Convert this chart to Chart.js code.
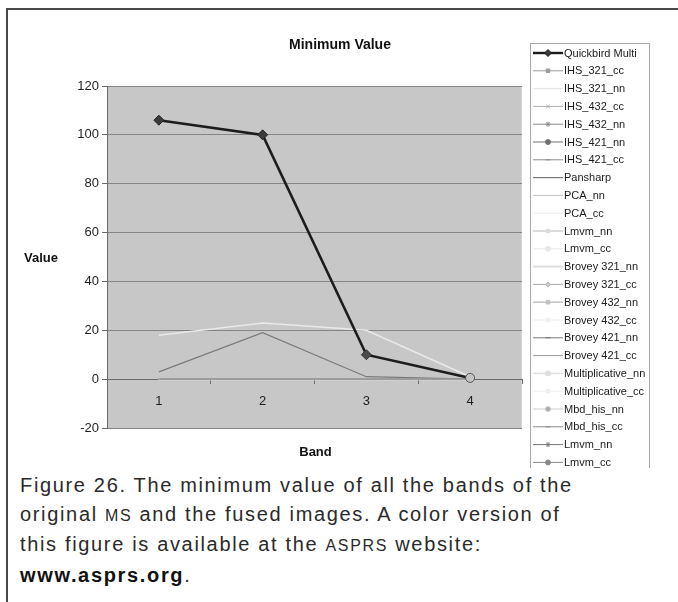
<!DOCTYPE html>
<html>
<head>
<meta charset="utf-8">
<script src="https://cdn.jsdelivr.net/npm/chart.js@4"></script>
<style>
  html, body { margin: 0; padding: 0; background: #fff; }
  body { width: 678px; height: 602px; position: relative; overflow: hidden; }
  #frame { position: absolute; left: 6px; top: 8px; width: 700px; height: 620px;
           border-left: 2px solid #4a4a4a; border-top: 2px solid #4a4a4a; }
  #wrap { position: absolute; left: 0; top: 0; width: 678px; height: 470px; }
  #caption { position: absolute; left: 20px; top: 471px; font-family: "Liberation Sans", Arial, sans-serif;
             font-size: 20px; line-height: 28.5px; color: #2a2a2a; white-space: nowrap; }
  .sc { font-size: 16px; }
  b { color: #111; }
</style>
</head>
<body>
<div id="frame"></div>
<div id="wrap"><canvas id="c" width="678" height="470"></canvas></div>
<div id="caption">
  <div class="ln">Figure 26. The minimum value of all the bands of the</div>
  <div class="ln">original <span class="sc">MS</span> and the fused images. A color version of</div>
  <div class="ln">this figure is available at the <span class="sc">ASPRS</span> website:</div>
  <div class="ln"><b>www.asprs.org</b>.</div>
</div>
<script>
// Band numbers on the category axis
const bands = ['1', '2', '3', '4'];

// Value axis ticks
const valueTicks = [-20, 0, 20, 40, 60, 80, 100, 120];

// Minimum value per band for the original image and each fused product
const quickbirdMulti   = [106, 100, 10, 0.5];
const ihs321cc         = [0, 0, 0, 0];
const ihs321nn         = [18, 23, 20, 1];
const ihs432cc         = [0, 0, 0, 0];
const ihs432nn         = [0, 0, 0, 0];
const ihs421nn         = [0, 0, 0, 0];
const ihs421cc         = [0, 0, 0, 0];
const pansharp         = [3, 19, 1, 0];
const pcaNn            = [0, 0, 0, 0];
const pcaCc            = [0, 0, 0, 0];
const lmvmNn           = [0, 0, 0, 0];
const lmvmCc           = [0, 0, 0, 0];
const brovey321nn      = [0, 0, 0, 0];
const brovey321cc      = [0, 0, 0, 0];
const brovey432nn      = [0, 0, 0, 0];
const brovey432cc      = [0, 0, 0, 0];
const brovey421nn      = [0, 0, 0, 0];
const brovey421cc      = [0, 0, 0, 0];
const multiplicativeNn = [0, 0, 0, 0];
const multiplicativeCc = [0, 0, 0, 0];
const mbdHisNn         = [0, 0, 0, 0];
const mbdHisCc         = [0, 0, 0, 0];
const lmvmNn2          = [0, 0, 0, 0];
const lmvmCc2          = [0, 0, 0, 0];

const FONT = '"Liberation Sans", Arial, sans-serif';

// one series; the marker is shown in the legend key, the plotted points stay plain
function ds(label, data, color, width, marker, fill) {
  return {
    label, data,
    borderColor: color, backgroundColor: fill || color,
    borderWidth: width, pointRadius: 0,
    legendMarker: marker || null, legendFill: fill || color,
    tension: 0, fill: false
  };
}

const datasets = [
  Object.assign(ds('Quickbird Multi', quickbirdMulti, '#1c1c1c', 2.6, 'rectRot', '#3a3a3a'), {
    pointStyle: ['rectRot', 'rectRot', 'rectRot', 'circle'],
    pointBackgroundColor: ['#3a3a3a', '#3a3a3a', '#4a4a4a', '#c4c4c4'],
    pointBorderColor: ['#222', '#222', '#333', '#555'],
    pointBorderWidth: 1,
    pointRadius: [5, 5, 5, 4.5]
  }),
  ds('IHS_321_cc', ihs321cc, '#9a9a9a', 1, 'rect'),
  ds('IHS_321_nn', ihs321nn, '#e9e9e9', 1.5, null),
  ds('IHS_432_cc', ihs432cc, '#b0b0b0', 1, 'crossRot'),
  ds('IHS_432_nn', ihs432nn, '#8a8a8a', 1, 'star'),
  ds('IHS_421_nn', ihs421nn, '#707070', 1, 'circle'),
  ds('IHS_421_cc', ihs421cc, '#8c8c8c', 1, 'line'),
  ds('Pansharp', pansharp, '#7a7a7a', 1.2, null),
  ds('PCA_nn', pcaNn, '#bdbdbd', 1, null),
  ds('PCA_cc', pcaCc, '#ececec', 1, null),
  ds('Lmvm_nn', lmvmNn, '#dcdcdc', 2, 'rect'),
  ds('Lmvm_cc', lmvmCc, '#e8e8e8', 1, 'circle'),
  ds('Brovey 321_nn', brovey321nn, '#dddddd', 2, null),
  ds('Brovey 321_cc', brovey321cc, '#ababab', 1, 'rectRot', '#d0d0d0'),
  ds('Brovey 432_nn', brovey432nn, '#c2c2c2', 1.5, 'rect'),
  ds('Brovey 432_cc', brovey432cc, '#eeeeee', 1, 'rect'),
  ds('Brovey 421_nn', brovey421nn, '#7a7a7a', 1, 'line'),
  ds('Brovey 421_cc', brovey421cc, '#9a9a9a', 1, null),
  ds('Multiplicative_nn', multiplicativeNn, '#dedede', 1.5, 'circle'),
  ds('Multiplicative_cc', multiplicativeCc, '#efefef', 1, 'rect'),
  ds('Mbd_his_nn', mbdHisNn, '#cbcbcb', 1, 'circle', '#aaaaaa'),
  ds('Mbd_his_cc', mbdHisCc, '#8c8c8c', 1, 'line'),
  ds('Lmvm_nn', lmvmNn2, '#777777', 1, 'star'),
  ds('Lmvm_cc', lmvmCc2, '#888888', 1, 'circle')
];

// Gray plot area behind the series
const plotBackground = {
  id: 'plotBackground',
  beforeDraw(chart) {
    const { ctx, chartArea: a } = chart;
    ctx.save();
    ctx.fillStyle = '#c7c7c7';
    ctx.fillRect(a.left, a.top, a.right - a.left, a.bottom - a.top);
    ctx.strokeStyle = '#d8d8d8';
    ctx.lineWidth = 1;
    ctx.beginPath();
    ctx.moveTo(Math.round(a.right) - 0.5, a.top);
    ctx.lineTo(Math.round(a.right) - 0.5, a.bottom);
    ctx.stroke();
    ctx.restore();
  }
};

// Chart title, horizontal axis titles and the boxed legend on the right
const annotations = {
  id: 'annotations',
  afterDraw(chart) {
    const { ctx, chartArea: a } = chart;
    ctx.save();
    ctx.fillStyle = '#111';
    ctx.textAlign = 'center';
    ctx.textBaseline = 'middle';
    ctx.font = 'bold 14px ' + FONT;
    ctx.fillText('Minimum Value', 340, 45);
    ctx.font = 'bold 13px ' + FONT;
    ctx.fillText('Value', 41, (a.top + a.bottom) / 2 + 1);
    ctx.fillText('Band', (a.left + a.right) / 2 + 1, 452);

    // legend
    ctx.beginPath();
    ctx.rect(0, 0, 678, 468);
    ctx.clip();
    ctx.strokeStyle = '#a9a9a9';
    ctx.lineWidth = 1;
    ctx.strokeRect(530.5, 43.5, 119, 440);
    ctx.font = '11px ' + FONT;
    ctx.textAlign = 'left';
    chart.data.datasets.forEach((d, i) => {
      const y = 53 + i * 17.8;
      ctx.strokeStyle = d.borderColor;
      ctx.lineWidth = Math.min(d.borderWidth, 2.4);
      ctx.beginPath();
      ctx.moveTo(533, y);
      ctx.lineTo(563, y);
      ctx.stroke();
      if (d.legendMarker) {
        ctx.fillStyle = d.legendFill;
        ctx.strokeStyle = d.borderColor;
        ctx.lineWidth = 1;
        Chart.helpers.drawPoint(ctx, { pointStyle: d.legendMarker, radius: i === 0 ? 3.5 : 2.5, rotation: 0, borderWidth: 1 }, 548, y);
      }
      ctx.fillStyle = '#1a1a1a';
      ctx.fillText(d.label, 564, y + 0.5);
    });
    ctx.restore();
  }
};

new Chart(document.getElementById('c'), {
  type: 'line',
  data: { labels: bands, datasets },
  plugins: [plotBackground, annotations],
  options: {
    responsive: false,
    animation: false,
    events: [],
    layout: { padding: { left: 0, right: 156, top: 86, bottom: 42 } },
    plugins: {
      legend: { display: false },
      tooltip: { enabled: false },
      title: { display: false }
    },
    scales: {
      x: {
        position: { y: 0 },
        offset: true,
        z: 1,
        grid: { drawOnChartArea: false, drawTicks: true, tickLength: 4, offset: true, tickColor: '#6a6a6a' },
        border: { display: true, color: '#6a6a6a', width: 1 },
        ticks: { color: '#1e1e1e', font: { family: FONT, size: 13 }, padding: 10, maxRotation: 0 }
      },
      y: {
        min: valueTicks[0], max: valueTicks[valueTicks.length - 1],
        afterBuildTicks(s) { s.ticks = valueTicks.map(v => ({ value: v })); },
        afterFit(s) { s.width = 107; },
        grid: { color: '#858585', lineWidth: 1, tickLength: 5, tickColor: '#6a6a6a' },
        border: { display: true, color: '#6a6a6a', width: 1 },
        ticks: { color: '#1e1e1e', font: { family: FONT, size: 13 }, padding: 3 }
      }
    }
  }
});

// set caption tracking so the first line fills its measure
(function () {
  const cap = document.getElementById('caption');
  const first = cap.querySelector('.ln');
  first.style.display = 'inline-block';
  const w = first.getBoundingClientRect().width;
  first.style.display = 'block';
  const ls = (553 - w) / first.textContent.length;
  cap.style.letterSpacing = ls.toFixed(2) + 'px';
})();
</script>
</body>
</html>
